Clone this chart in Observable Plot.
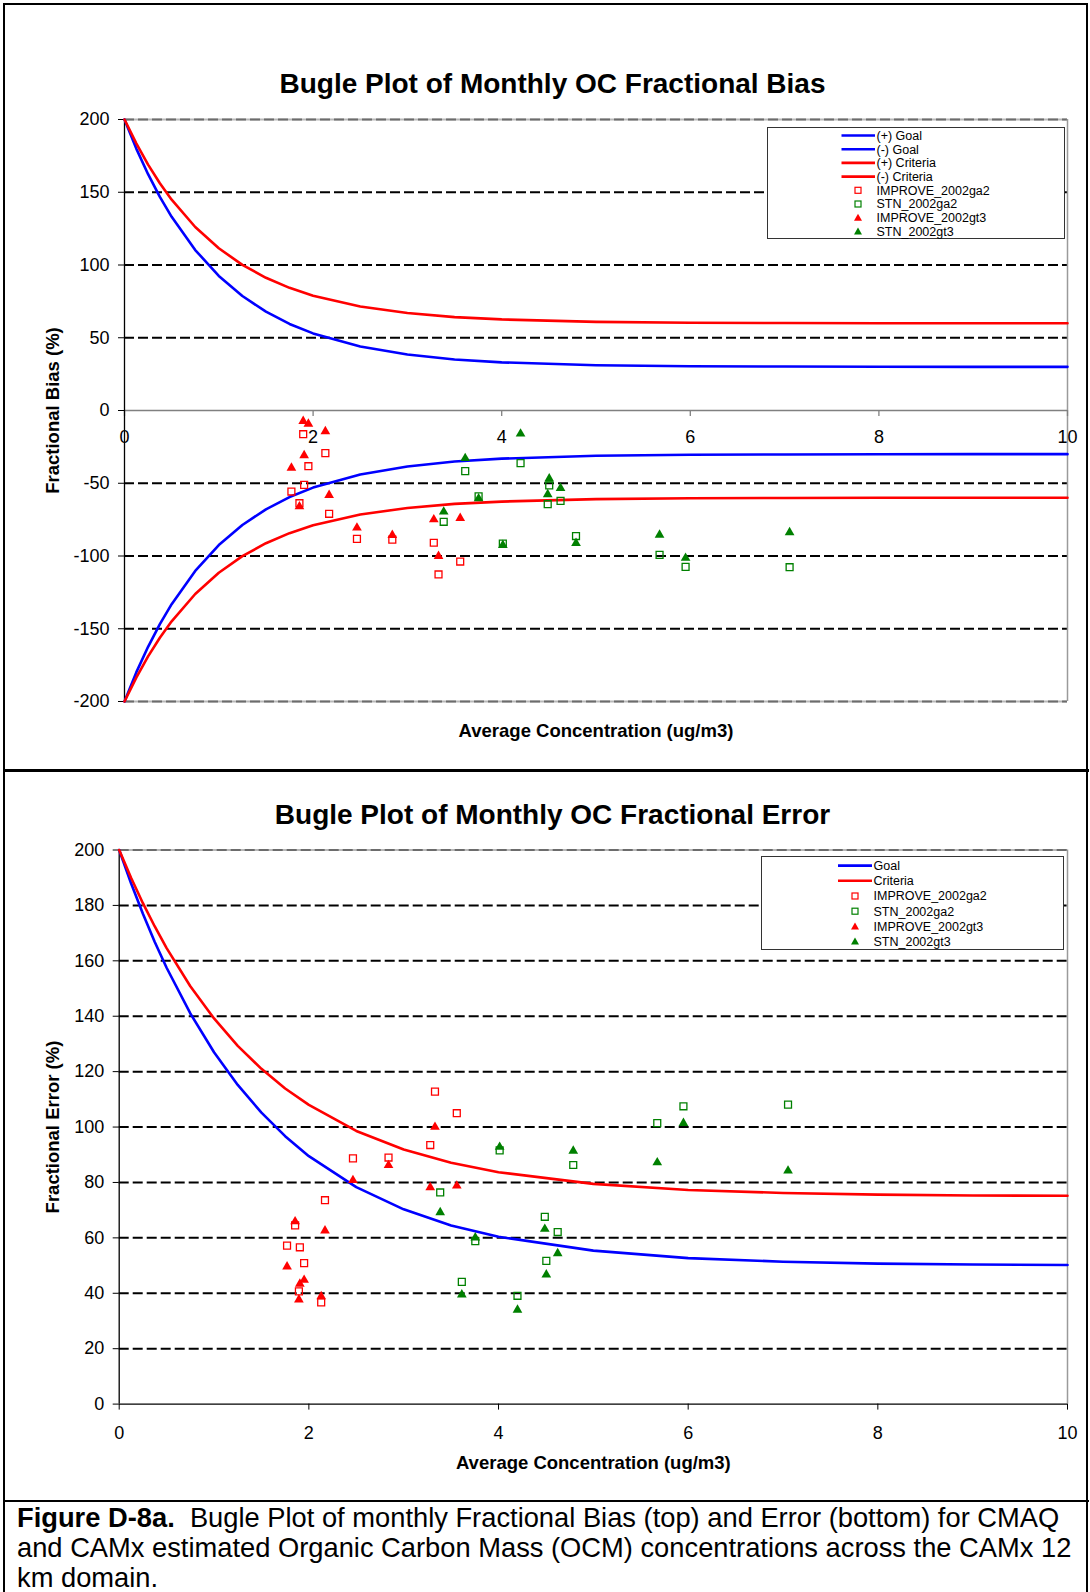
<!DOCTYPE html>
<html>
<head>
<meta charset="utf-8">
<script src="https://cdn.jsdelivr.net/npm/d3@7"></script>
<script src="https://cdn.jsdelivr.net/npm/@observablehq/plot@0.6"></script>
<style>
  html, body { margin: 0; padding: 0; background: #fff; }
  body { font-family: "Liberation Sans", Arial, sans-serif; color: #000; }
  #page { position: relative; width: 1090px; height: 1592px; overflow: hidden; background: #fff; }
  .frame { position: absolute; left: 3px; top: 3px; width: 1081px; height: 1640px; border: 2.6px solid #000; box-sizing: content-box; }
  .rule { position: absolute; left: 3px; width: 1086px; height: 2.6px; background: #000; }
  .title { position: absolute; left: 0; width: 1105px; text-align: center; font-weight: bold; font-size: 28px; line-height: 28px; white-space: nowrap; }
  .chart { position: absolute; left: 0; }
  .legend { position: absolute; overflow: visible; }
  .legend text { font-family: "Liberation Sans", Arial, sans-serif; font-size: 12.5px; fill: #000; }
  .caption { position: absolute; left: 17px; font-size: 27.3px; line-height: 30px; white-space: pre; }
</style>
</head>
<body>
<div id="page">
  <div class="frame"></div>
  <div class="rule" style="top:769px"></div>
  <div class="rule" style="top:1499.5px"></div>
  <div class="title" style="top:69.6px">Bugle Plot of Monthly OC Fractional Bias</div>
  <div class="title" style="top:801px">Bugle Plot of Monthly OC Fractional Error</div>
  <div id="biasChart" class="chart" style="top:100px"></div>
  <div id="errorChart" class="chart" style="top:830px"></div>
  <div class="caption" style="top:1503px"><b>Figure D-8a.</b>  Bugle Plot of monthly Fractional Bias (top) and Error (bottom) for CMAQ</div>
  <div class="caption" style="top:1533px">and CAMx estimated Organic Carbon Mass (OCM) concentrations across the CAMx 12</div>
  <div class="caption" style="top:1563px">km domain.</div>
</div>
<script>
// ---- goal / criteria curves (percent) at these average concentrations (ug/m3)
const curveConc = [0, 0.125, 0.25, 0.375, 0.5, 0.75, 1, 1.25, 1.5, 1.75, 2, 2.5, 3, 3.5, 4, 5, 6, 7, 8, 9, 10];
const biasGoalPos = [200, 180.0, 162.4, 146.8, 133.1, 110.3, 92.5, 78.7, 67.9, 59.5, 53.0, 44.0, 38.5, 35.1, 33.1, 31.1, 30.4, 30.2, 30.1, 30.0, 30.0];
const biasGoalNeg = [-200, -180.0, -162.4, -146.8, -133.1, -110.3, -92.5, -78.7, -67.9, -59.5, -53.0, -44.0, -38.5, -35.1, -33.1, -31.1, -30.4, -30.2, -30.1, -30.0, -30.0];
const biasCritPos = [200, 183.6, 169.0, 156.2, 144.9, 126.1, 111.5, 100.1, 91.2, 84.3, 78.9, 71.5, 67.0, 64.2, 62.6, 60.9, 60.3, 60.1, 60.0, 60.0, 60.0];
const biasCritNeg = [-200, -183.6, -169.0, -156.2, -144.9, -126.1, -111.5, -100.1, -91.2, -84.3, -78.9, -71.5, -67.0, -64.2, -62.6, -60.9, -60.3, -60.1, -60.0, -60.0, -60.0];
const errorGoal = [200, 188.0, 177.0, 166.8, 157.5, 141.0, 127.0, 115.2, 105.2, 96.7, 89.5, 78.3, 70.3, 64.5, 60.4, 55.4, 52.7, 51.4, 50.7, 50.4, 50.2];
const errorCrit = [200, 190.0, 180.8, 172.4, 164.6, 150.8, 139.2, 129.3, 121.0, 113.9, 108.0, 98.6, 91.9, 87.1, 83.7, 79.5, 77.3, 76.2, 75.6, 75.3, 75.2];

// ---- monthly observed OC concentration (ug/m3) per network
const improveConc = [1.77, 1.855, 1.895, 1.905, 1.95, 2.13, 2.17, 2.465, 2.84, 3.28, 3.33, 3.56];
const stnConc = [3.385, 3.613, 3.755, 4.012, 4.2, 4.488, 4.504, 4.624, 4.788, 5.674, 5.95, 7.053];

// ---- monthly fractional bias (%)
const improveGa2Bias = [-55.7, -63.7, -16.3, -51.1, -38.3, -29.3, -71.0, -88.2, -88.8, -90.9, -112.7, -103.8];
const stnGa2Bias = [-76.5, -41.7, -59.0, -91.5, -36.2, -64.4, -51.5, -62.1, -86.3, -99.2, -107.5, -107.7];
const improveGt3Bias = [-39.4, -66.0, -7.3, -30.9, -9.2, -14.4, -58.2, -80.6, -85.7, -74.9, -100.1, -74.0];
const stnGt3Bias = [-69.6, -32.8, -60.5, -92.5, -16.0, -57.7, -46.8, -53.4, -91.2, -85.5, -101.4, -83.8];

// ---- monthly fractional error (%)
const improveGa2Error = [57.2, 64.5, 40.7, 56.6, 50.9, 36.7, 73.6, 88.7, 89.0, 93.5, 112.8, 105.0];
const stnGa2Error = [76.4, 44.1, 58.8, 91.6, 39.1, 67.6, 51.7, 62.1, 86.3, 101.4, 107.5, 108.1];
const improveGt3Error = [49.6, 65.9, 37.7, 43.4, 44.8, 38.9, 62.6, 80.8, 86.2, 78.2, 100.0, 78.8];
const stnGt3Error = [69.2, 39.5, 60.1, 92.8, 34.0, 63.2, 46.7, 54.4, 91.4, 87.2, 101.4, 84.2];

// ---- axes
const concTicks = [0, 2, 4, 6, 8, 10];
const biasTicks = [-200, -150, -100, -50, 0, 50, 100, 150, 200];
const biasGrid = [-150, -100, -50, 50, 100, 150];
const errorTicks = [0, 20, 40, 60, 80, 100, 120, 140, 160, 180, 200];
const errorGrid = [20, 40, 60, 80, 100, 120, 140, 160, 180];

const biasLegend = ["(+) Goal", "(-) Goal", "(+) Criteria", "(-) Criteria", "IMPROVE_2002ga2", "STN_2002ga2", "IMPROVE_2002gt3", "STN_2002gt3"];
const errorLegend = ["Goal", "Criteria", "IMPROVE_2002ga2", "STN_2002ga2", "IMPROVE_2002gt3", "STN_2002gt3"];

const BLUE = "#0000ff", RED = "#ff0000", GREEN = "#008000";
const DASH = "10,4";
const FONT = "Liberation Sans, Arial, sans-serif";

const rows = (xs, ys) => xs.map((x, i) => ({x, y: ys[i]}));

function curveMarks(series) {
  return series.map(([ys, color]) =>
    Plot.line(rows(curveConc, ys), {x: "x", y: "y", stroke: color, strokeWidth: 2.6, strokeLinejoin: "round"}));
}

function scatterMarks(ga2Imp, ga2Stn, gt3Imp, gt3Stn) {
  const sq = {x: "x", y: "y", symbol: "square", r: 3.9, fill: "none", strokeWidth: 1.3};
  const tri = {x: "x", y: "y", symbol: "triangle", r: 3.6, stroke: "none"};
  return [
    Plot.dot(rows(improveConc, ga2Imp), {...sq, stroke: RED}),
    Plot.dot(rows(stnConc, ga2Stn), {...sq, stroke: GREEN}),
    Plot.dot(rows(improveConc, gt3Imp), {...tri, fill: RED}),
    Plot.dot(rows(stnConc, gt3Stn), {...tri, fill: GREEN})
  ];
}

const style = {fontFamily: FONT, fontSize: "18px", color: "#000", background: "none", overflow: "visible"};
const yTitle = {frameAnchor: "left", textAnchor: "middle", lineAnchor: "middle", rotate: -90, fontWeight: "bold", fontSize: 18.5};
const xTitle = {frameAnchor: "bottom", textAnchor: "middle", lineAnchor: "middle", fontWeight: "bold", fontSize: 18.5};

// ---- top panel: fractional bias
const biasPlot = Plot.plot({
  width: 1090, height: 670,
  marginTop: 19, marginBottom: 69, marginLeft: 124, marginRight: 23,
  style,
  x: {domain: [0, 10], axis: null},
  y: {domain: [-200, 200], axis: null},
  marks: [
    Plot.ruleY([-200, 200], {stroke: "#b8b8b8", strokeWidth: 2}),
    Plot.ruleY([-200, 200], {stroke: "#6c6c6c", strokeWidth: 2, strokeDasharray: DASH}),
    Plot.ruleY(biasGrid, {stroke: "#000", strokeWidth: 2, strokeDasharray: DASH}),
    Plot.ruleX([10], {stroke: "#9a9a9a", strokeWidth: 1.5}),
    Plot.ruleY([0], {stroke: "#808080", strokeWidth: 1.5}),
    Plot.ruleX(concTicks, {x: d => d, y1: 0, y2: 0, insetBottom: -6, stroke: "#808080", strokeWidth: 1.3}),
    Plot.text(concTicks, {x: d => d, y: 0, text: d => String(d), dy: 27, fontSize: 18}),
    Plot.ruleX([0], {stroke: "#000", strokeWidth: 1.3}),
    Plot.axisY({ticks: biasTicks, tickSize: 6, tickPadding: 9, fontSize: 18, tickFormat: d => String(d), label: null}),
    ...curveMarks([[biasGoalPos, BLUE], [biasGoalNeg, BLUE], [biasCritPos, RED], [biasCritNeg, RED]]),
    ...scatterMarks(improveGa2Bias, stnGa2Bias, improveGt3Bias, stnGt3Bias),
    Plot.text(["Fractional Bias (%)"], {...yTitle, dx: -71}),
    Plot.text(["Average Concentration (ug/m3)"], {...xTitle, dy: 30})
  ]
});
document.getElementById("biasChart").append(biasPlot);

// ---- bottom panel: fractional error
const errorPlot = Plot.plot({
  width: 1090, height: 670,
  marginTop: 19.5, marginBottom: 96.4, marginLeft: 118.7, marginRight: 23,
  style,
  x: {domain: [0, 10], axis: null},
  y: {domain: [0, 200], axis: null},
  marks: [
    Plot.ruleY([200], {stroke: "#b8b8b8", strokeWidth: 2}),
    Plot.ruleY([200], {stroke: "#6c6c6c", strokeWidth: 2, strokeDasharray: DASH}),
    Plot.ruleY(errorGrid, {stroke: "#000", strokeWidth: 2, strokeDasharray: DASH}),
    Plot.ruleX([10], {stroke: "#9a9a9a", strokeWidth: 1.5}),
    Plot.ruleY([0], {stroke: "#000", strokeWidth: 1.3}),
    Plot.ruleX([0], {stroke: "#000", strokeWidth: 1.3}),
    Plot.axisX({ticks: concTicks, tickSize: 6, tickPadding: 16, fontSize: 18, tickFormat: d => String(d), label: null}),
    Plot.axisY({ticks: errorTicks, tickSize: 6, tickPadding: 9, fontSize: 18, tickFormat: d => String(d), label: null}),
    ...curveMarks([[errorGoal, BLUE], [errorCrit, RED]]),
    ...scatterMarks(improveGa2Error, stnGa2Error, improveGt3Error, stnGt3Error),
    Plot.text(["Fractional Error (%)"], {...yTitle, dx: -65.7}),
    Plot.text(["Average Concentration (ug/m3)"], {...xTitle, dy: 59})
  ]
});
document.getElementById("errorChart").append(errorPlot);

// ---- legends drawn over the plot areas
function legendKinds(labels) {
  return labels.map(label => {
    if (/Goal/.test(label)) return {label, kind: "line", color: BLUE};
    if (/Criteria/.test(label)) return {label, kind: "line", color: RED};
    const color = /^IMPROVE/.test(label) ? RED : GREEN;
    return {label, kind: /ga2$/.test(label) ? "square" : "triangle", color};
  });
}

function drawLegend(labels, box) {
  const svg = d3.select("#page").append("svg")
    .attr("class", "legend")
    .style("left", box.left + "px").style("top", box.top + "px")
    .attr("width", box.width).attr("height", box.height);
  svg.append("rect")
    .attr("x", 0.5).attr("y", 0.5)
    .attr("width", box.width - 1).attr("height", box.height - 1)
    .attr("fill", "#fff").attr("stroke", "#333").attr("stroke-width", 1);
  legendKinds(labels).forEach((e, i) => {
    const cy = box.rowStart + i * box.rowStep;
    if (e.kind === "line") {
      svg.append("line")
        .attr("x1", box.lineX0).attr("x2", box.lineX1).attr("y1", cy).attr("y2", cy)
        .attr("stroke", e.color).attr("stroke-width", 2.6);
    } else if (e.kind === "square") {
      svg.append("rect")
        .attr("x", box.markX - 3).attr("y", cy - 3).attr("width", 6).attr("height", 6)
        .attr("fill", "none").attr("stroke", e.color).attr("stroke-width", 1.2);
    } else {
      svg.append("path")
        .attr("d", `M${box.markX},${cy - 4}L${box.markX + 4},${cy + 3}L${box.markX - 4},${cy + 3}Z`)
        .attr("fill", e.color);
    }
    svg.append("text").attr("x", box.textX).attr("y", cy).attr("dy", "0.35em").text(e.label);
  });
}

drawLegend(biasLegend, {left: 767, top: 126.5, width: 298, height: 112, rowStart: 8.5, rowStep: 13.7, lineX0: 74.5, lineX1: 108, markX: 91, textX: 109.5});
drawLegend(errorLegend, {left: 761, top: 855.5, width: 303, height: 94, rowStart: 9.6, rowStep: 15.2, lineX0: 77, lineX1: 111, markX: 94, textX: 112.5});
</script>
</body>
</html>
